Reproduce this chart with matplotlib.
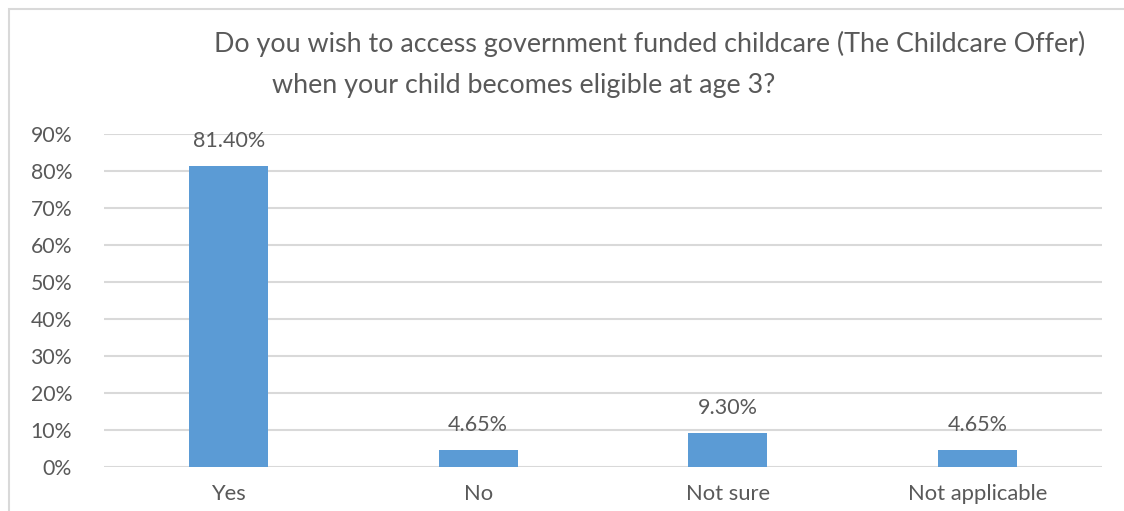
import matplotlib
matplotlib.use('Agg')
import matplotlib.pyplot as plt
from matplotlib.patches import Rectangle
import numpy as np

categories = ['Yes', 'No', 'Not sure', 'Not applicable']
values = [81.40, 4.65, 9.30, 4.65]
labels = ['81.40%', '4.65%', '9.30%', '4.65%']
yticks = [0, 10, 20, 30, 40, 50, 60, 70, 80, 90]

plt.rcParams['font.family'] = ['Lato', 'DejaVu Sans']
txt = '#595959'

fig = plt.figure(figsize=(11.24, 5.11), dpi=100)
ax = fig.add_axes([104/1124, 44/511, 998/1124, 333/511])

x = np.arange(len(categories))
ax.bar(x, values, width=0.317, color='#5B9BD5', zorder=3)
ax.set_xlim(-0.5, len(categories) - 0.5)
ax.set_ylim(0, 90)
ax.set_yticks(yticks)
ax.set_yticklabels([f'{t}%' for t in yticks], fontsize=15.3, color=txt)
ax.set_xticks(x)
ax.set_xticklabels(categories, fontsize=15.8, color=txt)
ax.tick_params(length=0)
ax.tick_params(axis='y', pad=23)
ax.tick_params(axis='x', pad=12)
ax.grid(axis='y', color='#D9D9D9', linewidth=1.5, zorder=0)
for s in ax.spines.values():
    s.set_visible(False)

for xi, v, lab in zip(x, values, labels):
    ax.annotate(lab, (xi, v), xytext=(0, 18), textcoords='offset points',
                ha='center', va='center', fontsize=15.5, color=txt)

fig.text(650/1124, 1 - 44/511, 'Do you wish to access government funded childcare (The Childcare Offer)',
         ha='center', va='center', fontsize=19.4, color=txt)
fig.text(524/1124, 1 - 86/511, 'when your child becomes eligible at age 3?',
         ha='center', va='center', fontsize=19.4, color=txt)

fig.add_artist(Rectangle((9/1124, -0.1), 1.2, 1.1 - 9/511, transform=fig.transFigure,
                         fill=False, edgecolor='#D9D9D9', linewidth=1.5))

fig.savefig('out.png', dpi=100)
